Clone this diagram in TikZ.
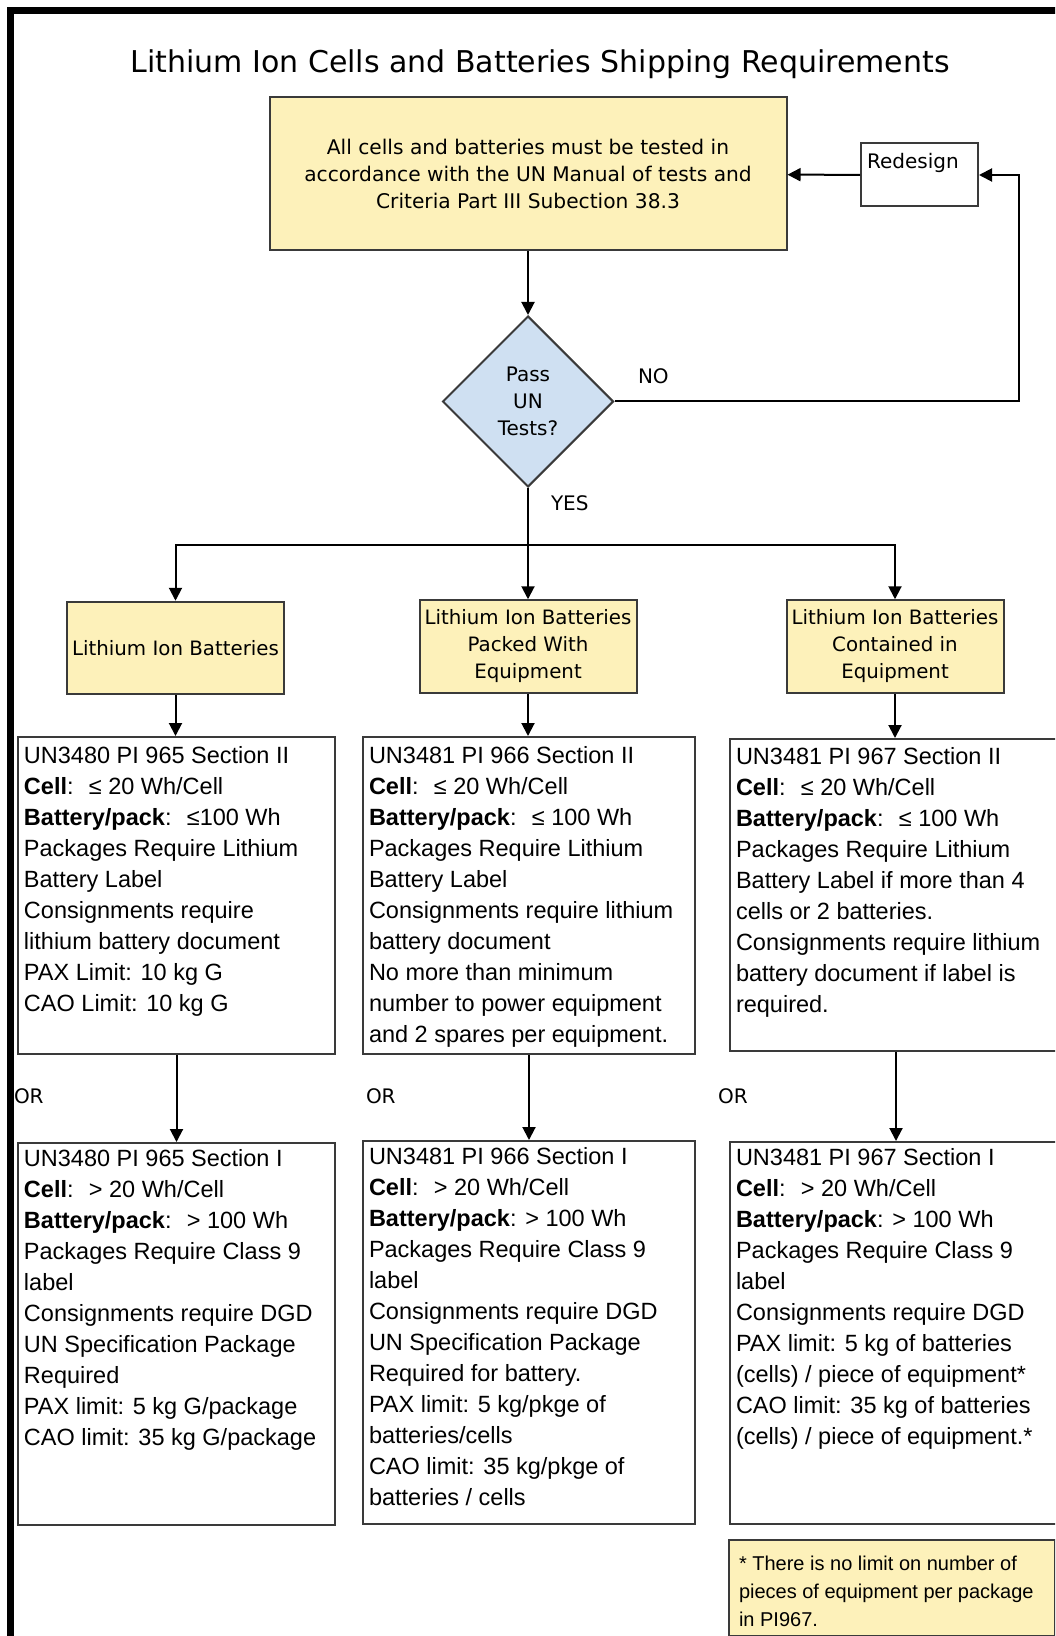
\documentclass[tikz,border=0pt]{standalone}
\usepackage{fontspec}
\setmainfont{DejaVu Sans}
\newfontfamily\arialfont{Liberation Sans}
\usetikzlibrary{positioning,shapes.geometric}
\usetikzlibrary{arrows.meta}
\definecolor{paleyellow}{HTML}{FDF1BA}
\definecolor{paleblue}{HTML}{CFE0F2}
\definecolor{boxline}{HTML}{3A3A3A}
\newcommand\boxtext[4]{% height, width, first baseline, lines
  \begin{minipage}[t][#1][t]{#2}\rule{0pt}{#3}#4\end{minipage}%
}
\tikzset{
  yellowbox/.style={draw=boxline,fill=paleyellow,align=center,inner sep=0pt,
    minimum width=108.5pt,minimum height=46.25pt,font=\fontsize{9.9}{13.5}\selectfont},
  infobox/.style={draw=boxline,fill=white,anchor=north west,inner xsep=3pt,inner ysep=0pt,
    font=\arialfont\fontsize{11.75}{15.5}\selectfont},
  branchtag/.style={anchor=base west,inner sep=0pt,font=\fontsize{10}{12}\selectfont},
}

\begin{document}
\begin{tikzpicture}[x=0.5pt,y=-0.5pt,line width=1pt,>={Triangle[width=6.5pt,length=6.5pt]}]
	\useasboundingbox (0,0) rectangle (1055,1636);
	\clip (0,0) rectangle (1055,1636);

	\node[anchor=base,font=\fontsize{15}{18}\selectfont] (title) at (540,73) {Lithium Ion Cells and Batteries Shipping Requirements};

	\node[yellowbox,minimum width=258.5pt,minimum height=76.5pt,font=\fontsize{10.1}{13.5}\selectfont] (T) at (528,174) {All cells and batteries must be tested in\\accordance with the UN Manual of tests and\\Criteria Part III Subection 38.3};
	\node[draw=boxline,fill=white,anchor=north west,inner xsep=3pt,inner ysep=0pt,font=\fontsize{10}{12}\selectfont] (R) at (860,142.5) {\boxtext{31.5pt}{52.5pt}{12.5pt}{Redesign}};
	\node[draw=boxline,fill=paleblue,diamond,aspect=1,minimum width=85.5pt,minimum height=85.5pt,inner sep=0pt,align=center,font=\fontsize{10}{13.5}\selectfont] (D) at (528,401.5) {Pass\\UN\\Tests?};

	\node[yellowbox] (L1) at (175.5,648) {Lithium Ion Batteries};
	\node[yellowbox] (L2) at (528,646.5) {Lithium Ion Batteries\\Packed With\\Equipment};
	\node[yellowbox] (L3) at (895,646.5) {Lithium Ion Batteries\\Contained in\\Equipment};

	\node[infobox] (P1) at (17,736) {\boxtext{158.5pt}{152.5pt}{13pt}{UN3480 PI 965 Section II\\ \textbf{Cell}:~ ≤ 20 Wh/Cell\\ \textbf{Battery/pack}:~ ≤100 Wh\\ Packages Require Lithium\\ Battery Label\\ Consignments require\\ lithium battery document\\ PAX Limit: 10 kg G\\ CAO Limit: 10 kg G}};
	\node[infobox] (P2) at (362,736) {\boxtext{158.5pt}{160pt}{13pt}{UN3481 PI 966 Section II\\ \textbf{Cell}:~ ≤ 20 Wh/Cell\\ \textbf{Battery/pack}:~ ≤ 100 Wh\\ Packages Require Lithium\\ Battery Label\\ Consignments require lithium\\ battery document\\ No more than minimum\\ number to power equipment\\ and 2 spares per equipment.}};
	\node[infobox] (P3) at (729,738) {\boxtext{156pt}{160pt}{12.5pt}{UN3481 PI 967 Section II\\ \textbf{Cell}:~ ≤ 20 Wh/Cell\\ \textbf{Battery/pack}:~ ≤ 100 Wh\\ Packages Require Lithium\\ Battery Label if more than 4\\ cells or 2 batteries.\\ Consignments require lithium\\ battery document if label is\\ required.}};

	\node[infobox] (Q1) at (17,1142) {\boxtext{191pt}{152.5pt}{11.5pt}{UN3480 PI 965 Section I\\ \textbf{Cell}:~ > 20 Wh/Cell\\ \textbf{Battery/pack}:~ > 100 Wh\\ Packages Require Class 9\\ label\\ Consignments require DGD\\ UN Specification Package\\ Required\\ PAX limit: 5 kg G/package\\ CAO limit: 35 kg G/package}};
	\node[infobox] (Q2) at (362,1140) {\boxtext{191.5pt}{160pt}{11.5pt}{UN3481 PI 966 Section I\\ \textbf{Cell}:~ > 20 Wh/Cell\\ \textbf{Battery/pack}: > 100 Wh\\ Packages Require Class 9\\ label\\ Consignments require DGD\\ UN Specification Package\\ Required for battery.\\ PAX limit: 5 kg/pkge of\\ batteries/cells\\ CAO limit: 35 kg/pkge of\\ batteries / cells}};
	\node[infobox] (Q3) at (729,1141) {\boxtext{191pt}{160pt}{11.5pt}{UN3481 PI 967 Section I\\ \textbf{Cell}:~ > 20 Wh/Cell\\ \textbf{Battery/pack}: > 100 Wh\\ Packages Require Class 9\\ label\\ Consignments require DGD\\ PAX limit: 5 kg of batteries\\ (cells) / piece of equipment*\\ CAO limit: 35 kg of batteries\\ (cells) / piece of equipment.*}};

	\node[draw=boxline,fill=paleyellow,anchor=north west,inner xsep=5pt,inner ysep=0pt,font=\arialfont\fontsize{10}{14}\selectfont] (F) at (728,1539) {\boxtext{48pt}{153pt}{15pt}{* There is no limit on number of\\pieces of equipment per package\\in PI967.}};

	\node[branchtag] (no) at (637,384) {NO};
	\node[branchtag] (yes) at (550,510) {YES};
	\node[branchtag] (or1) at (13,1103) {OR};
	\node[branchtag] (or2) at (365,1103) {OR};
	\node[branchtag] (or3) at (717,1103) {OR};

	\coordinate (C1) at (1019,401.5);
	\coordinate (C2) at (528,545);

	\draw [->] (T) -- (D);
	\draw [->] (R) -- (T);
	\draw [->] (D) -- (C1) |- (R);
	\draw (D) -- (C2);
	\draw [->] (C2) -| (L1);
	\draw [->] (C2) -- (L2);
	\draw [->] (C2) -| (L3);
	\draw [->] (L1) -- (L1 |- P1.north);
	\draw [->] (L2) -- (L2 |- P2.north);
	\draw [->] (L3) -- (L3 |- P3.north);
	\draw [->] (P1) -- (Q1);
	\draw [->] (P2) -- (Q2);
	\draw [->] (P3) -- (Q3);

	\draw [line width=3.25pt] (10.5,1640) -- (10.5,10.5) -- (1060,10.5);
\end{tikzpicture}
\end{document}
